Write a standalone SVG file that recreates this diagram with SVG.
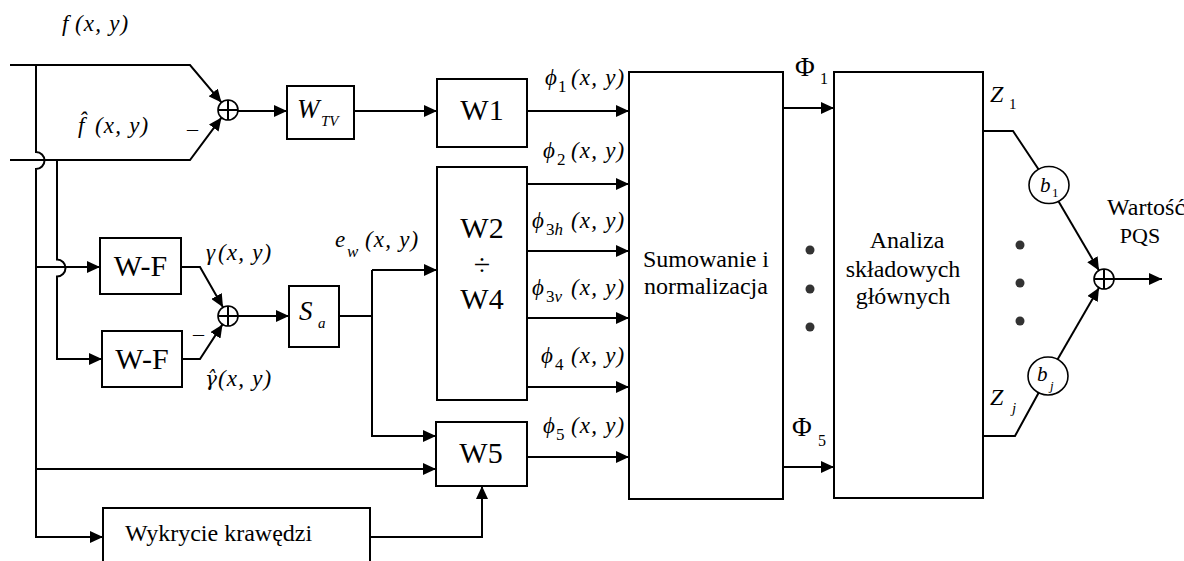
<svg xmlns="http://www.w3.org/2000/svg" width="1184" height="561" viewBox="0 0 1184 561">
<style>
.ln{fill:none;stroke:#000;stroke-width:2}
.bx{fill:#fff;stroke:#000;stroke-width:2}
.sm{fill:#fff;stroke:#000;stroke-width:1.6}
.dot{fill:#333}
.t{font-family:"Liberation Serif","Times New Roman","DejaVu Serif",serif;fill:#000}
.big{font-size:30px}
.txt{font-size:24px}
.mi{font-style:italic;font-size:23px}
.sub{font-size:17px}
.xy{font-style:italic;font-size:23px;letter-spacing:1.2px}
</style>
<defs>
<marker id="ah" markerUnits="userSpaceOnUse" markerWidth="14" markerHeight="12" refX="13" refY="6" orient="auto">
<path d="M0,0 L13,6 L0,12 z" fill="#000"/>
</marker>
</defs>
<rect width="1184" height="561" fill="#fff"/>

<g id="connectors">
<path class="ln" d="M10,65 H190 L221.5,102.4" marker-end="url(#ah)"/>
<path class="ln" d="M10,160 H190 L221.5,117.6" marker-end="url(#ah)"/>
<path class="ln" d="M238,111 H287" marker-end="url(#ah)"/>
<path class="ln" d="M354,111 H437" marker-end="url(#ah)"/>
<path class="ln" d="M527,111 H629" marker-end="url(#ah)"/>
<path class="ln" d="M36,65 V152 A8.5,8.5 0 0 1 36,169 V537 H103" marker-end="url(#ah)"/>
<path class="ln" d="M36,469 H436" marker-end="url(#ah)"/>
<path class="ln" d="M57,160 V259.5 A8.5,8.5 0 0 1 57,276.5 V359 H102" marker-end="url(#ah)"/>
<path class="ln" d="M36,267 H100" marker-end="url(#ah)"/>
<path class="ln" d="M181,267 H200 L223,307.3" marker-end="url(#ah)"/>
<path class="ln" d="M182,359 H200 L222.5,324.4" marker-end="url(#ah)"/>
<path class="ln" d="M238,316 H289" marker-end="url(#ah)"/>
<path class="ln" d="M339,316 H372"/>
<path class="ln" d="M372,270 V436 H436" marker-end="url(#ah)"/>
<path class="ln" d="M372,270 H437" marker-end="url(#ah)"/>
<path class="ln" d="M527,184 H629" marker-end="url(#ah)"/>
<path class="ln" d="M527,251 H629" marker-end="url(#ah)"/>
<path class="ln" d="M527,318 H629" marker-end="url(#ah)"/>
<path class="ln" d="M527,387 H629" marker-end="url(#ah)"/>
<path class="ln" d="M527,457 H629" marker-end="url(#ah)"/>
<path class="ln" d="M370,537 H482 V486" marker-end="url(#ah)"/>
<path class="ln" d="M783,108 H834" marker-end="url(#ah)"/>
<path class="ln" d="M783,467 H834" marker-end="url(#ah)"/>
<path class="ln" d="M983,131 H1013 L1038.5,169.2"/>
<path class="ln" d="M1058.6,201.4 L1099,270.4" marker-end="url(#ah)"/>
<path class="ln" d="M983,436 H1015 L1038.8,392.6"/>
<path class="ln" d="M1057.5,359.5 L1099,287.7" marker-end="url(#ah)"/>
<path class="ln" d="M1114,279 H1162" marker-end="url(#ah)"/>
</g>

<g id="sum1">
<circle class="sm" cx="228" cy="110" r="10"/>
<path class="ln" stroke-width="1.6" d="M218,110 H238 M228,100 V120"/>
</g>
<g id="wtv">
<rect class="bx" x="287" y="86" width="67" height="53"/>
<text class="t mi" x="297" y="118" style="font-size:27px">W<tspan x="321" y="126" style="font-size:15px">TV</tspan></text>
</g>
<g id="w1">
<rect class="bx" x="437" y="79" width="90" height="68"/>
<text class="t big" x="482" y="120" text-anchor="middle">W1</text>
</g>
<g id="w2w4">
<rect class="bx" x="437" y="167" width="90" height="233"/>
<text class="t big" x="482" y="238" text-anchor="middle">W2</text>
<text class="t big" x="482" y="275" text-anchor="middle">÷</text>
<text class="t big" x="482" y="309" text-anchor="middle">W4</text>
</g>
<g id="wf1">
<rect class="bx" x="100" y="238" width="81" height="56"/>
<text class="t big" x="140.5" y="276" text-anchor="middle">W-F</text>
</g>
<g id="wf2">
<rect class="bx" x="102" y="331" width="80" height="56"/>
<text class="t big" x="142" y="369" text-anchor="middle">W-F</text>
</g>
<g id="sum2">
<circle class="sm" cx="228" cy="316" r="10"/>
<path class="ln" stroke-width="1.6" d="M218,316 H238 M228,306 V326"/>
</g>
<g id="sa">
<rect class="bx" x="289" y="286" width="50" height="61"/>
<text class="t mi" x="299" y="320" style="font-size:27px">S<tspan x="318" y="328" style="font-size:15px">a</tspan></text>
</g>
<g id="w5">
<rect class="bx" x="436" y="422" width="91" height="64"/>
<text class="t big" x="481" y="463" text-anchor="middle">W5</text>
</g>
<g id="edge">
<rect class="bx" x="103" y="508" width="267" height="70"/>
<text class="t txt" x="125" y="541">Wykrycie krawędzi</text>
</g>
<g id="sumnorm">
<rect class="bx" x="629" y="72" width="154" height="427"/>
<text class="t txt" x="643" y="267">Sumowanie i</text>
<text class="t txt" x="644" y="294">normalizacja</text>
</g>
<g id="pca">
<rect class="bx" x="834" y="72" width="149" height="426"/>
<text class="t txt" x="907" y="248" text-anchor="middle">Analiza</text>
<text class="t txt" x="903" y="277" text-anchor="middle">składowych</text>
<text class="t txt" x="903" y="304" text-anchor="middle">głównych</text>
</g>
<g id="b1">
<ellipse class="sm" cx="1049" cy="185" rx="20" ry="18.5"/>
<text class="t mi" x="1040" y="192" style="font-size:21px">b<tspan x="1052" y="197" style="font-size:13px;font-style:normal">1</tspan></text>
</g>
<g id="bj">
<ellipse class="sm" cx="1048" cy="376" rx="20" ry="19"/>
<text class="t mi" x="1037" y="381" style="font-size:21px">b<tspan x="1050" y="390" style="font-size:13px">j</tspan></text>
</g>
<g id="sum3">
<circle class="sm" cx="1104" cy="279" r="10"/>
<path class="ln" stroke-width="1.6" d="M1094,279 H1114 M1104,269 V289"/>
</g>
<g id="dots">
<circle class="dot" cx="810" cy="250" r="4.5"/>
<circle class="dot" cx="810" cy="289" r="4.5"/>
<circle class="dot" cx="810" cy="327" r="4.5"/>
<circle class="dot" cx="1020" cy="245" r="4.5"/>
<circle class="dot" cx="1020" cy="283" r="4.5"/>
<circle class="dot" cx="1020" cy="321" r="4.5"/>
</g>

<g id="labels">
<text class="t mi" x="62" y="31">f<tspan class="xy" x="75">(x, y)</tspan></text>
<text class="t mi" x="78" y="133">f̂<tspan class="xy" x="95">(x, y)</tspan></text>
<text class="t" x="187" y="136" style="font-size:22px">–</text>
<text class="t mi" x="206" y="260">γ<tspan class="xy" x="218">(x, y)</tspan></text>
<text class="t mi" x="205" y="386"><tspan style="font-family:'DejaVu Serif',serif;font-size:20px">γ̂</tspan><tspan class="xy" x="218" y="386">(x, y)</tspan></text>
<text class="t" x="193" y="341" style="font-size:22px">–</text>
<text class="t mi" x="335" y="247">e<tspan class="sub" x="347" y="257">w</tspan><tspan class="xy" x="365" y="247">(x, y)</tspan></text>
<text class="t mi" x="545" y="85">ϕ<tspan class="sub" style="font-style:normal" x="558" y="92">1</tspan><tspan class="xy" x="571" y="85">(x, y)</tspan></text>
<text class="t mi" x="543" y="158">ϕ<tspan class="sub" style="font-style:normal" x="557" y="165">2</tspan><tspan class="xy" x="571" y="158">(x, y)</tspan></text>
<text class="t mi" x="532" y="228">ϕ<tspan class="sub" style="font-style:normal" x="546" y="235">3</tspan><tspan class="sub">h</tspan><tspan class="xy" x="571" y="228">(x, y)</tspan></text>
<text class="t mi" x="532" y="295">ϕ<tspan class="sub" style="font-style:normal" x="546" y="302">3</tspan><tspan class="sub">v</tspan><tspan class="xy" x="571" y="295">(x, y)</tspan></text>
<text class="t mi" x="541" y="363">ϕ<tspan class="sub" style="font-style:normal" x="555" y="370">4</tspan><tspan class="xy" x="571" y="363">(x, y)</tspan></text>
<text class="t mi" x="543" y="433">ϕ<tspan class="sub" style="font-style:normal" x="556" y="440">5</tspan><tspan class="xy" x="571" y="433">(x, y)</tspan></text>
<text class="t" x="795" y="76" style="font-size:27px">Φ<tspan x="820" y="84" style="font-size:16px">1</tspan></text>
<text class="t" x="792" y="436" style="font-size:27px">Φ<tspan x="818" y="446" style="font-size:16px">5</tspan></text>
<text class="t mi" x="990" y="102" style="font-size:24px">Z<tspan x="1009" y="109" style="font-size:15px;font-style:normal">1</tspan></text>
<text class="t mi" x="990" y="405" style="font-size:24px">Z<tspan x="1012" y="413" style="font-size:15px">j</tspan></text>
<text class="t txt" x="1107" y="215">Wartość</text>
<text class="t" x="1140" y="243" text-anchor="middle" style="font-size:22px">PQS</text>
</g>
</svg>
